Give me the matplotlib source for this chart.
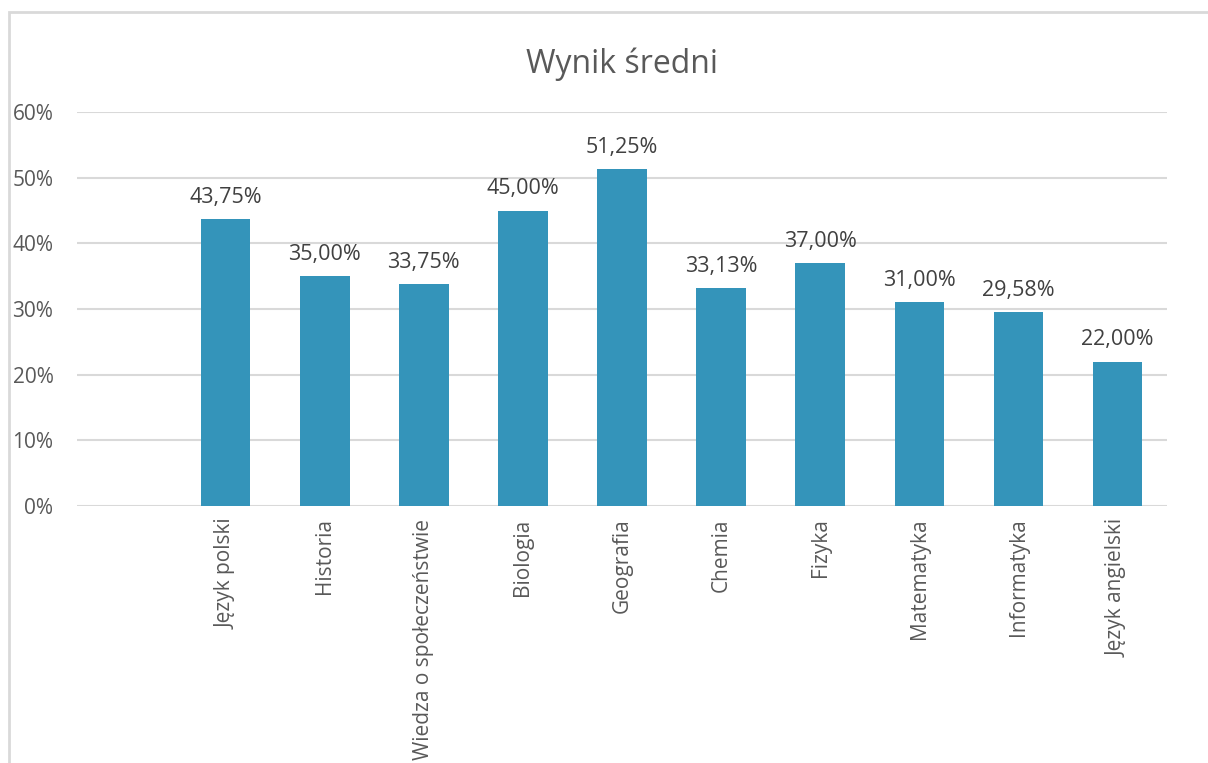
import matplotlib.pyplot as plt
from matplotlib.patches import Rectangle
from matplotlib.ticker import FuncFormatter

# data
subjects = ['', 'Język polski', 'Historia', 'Wiedza o społeczeństwie', 'Biologia',
            'Geografia', 'Chemia', 'Fizyka', 'Matematyka', 'Informatyka',
            'Język angielski']
scores = [None, 43.75, 35.00, 33.75, 45.00, 51.25, 33.13, 37.00, 31.00, 29.58, 22.00]
y_ticks = [0, 10, 20, 30, 40, 50, 60]

plt.rcParams['font.family'] = ['Open Sans', 'DejaVu Sans']

fig = plt.figure(figsize=(12.08, 7.63), dpi=100)
ax = fig.add_axes([77 / 1208, 1 - 506 / 763, (1167 - 77) / 1208, (506 - 112) / 763])

# chart border (cut off on the right and bottom like the screenshot)
fig.patches.append(Rectangle((9 / 1208, -0.05), 1.2, 1 - 12 / 763 + 0.05,
                             transform=fig.transFigure, fill=False,
                             edgecolor='#D9D9D9', linewidth=2))

xs = [i for i, v in enumerate(scores) if v is not None]
vals = [v for v in scores if v is not None]
bars = ax.bar(xs, vals, width=0.5, color='#3494BA', zorder=3)

for x, v in zip(xs, vals):
    ax.annotate(f'{v:.2f}%'.replace('.', ','), (x, v), xytext=(0, 8),
                textcoords='offset points', ha='center', va='bottom',
                fontsize=15.5, color='#404040')

ax.set_xlim(-0.5, len(subjects) - 0.5)
ax.set_ylim(0, 60)
ax.set_yticks(y_ticks)
ax.yaxis.set_major_formatter(FuncFormatter(lambda v, p: f'{v:.0f}%'))
ax.set_xticks(range(len(subjects)))
ax.set_xticklabels(subjects, rotation=90)
ax.grid(axis='y', color='#D9D9D9', linewidth=1.5, zorder=0)
ax.tick_params(length=0, labelsize=15, colors='#595959')
ax.tick_params(axis='y', pad=17)
ax.tick_params(axis='x', pad=9)
for s in ax.spines.values():
    s.set_visible(False)

ax.set_title('Wynik średni', fontsize=23, color='#595959', pad=28)

fig.savefig('out.png', dpi=100)
